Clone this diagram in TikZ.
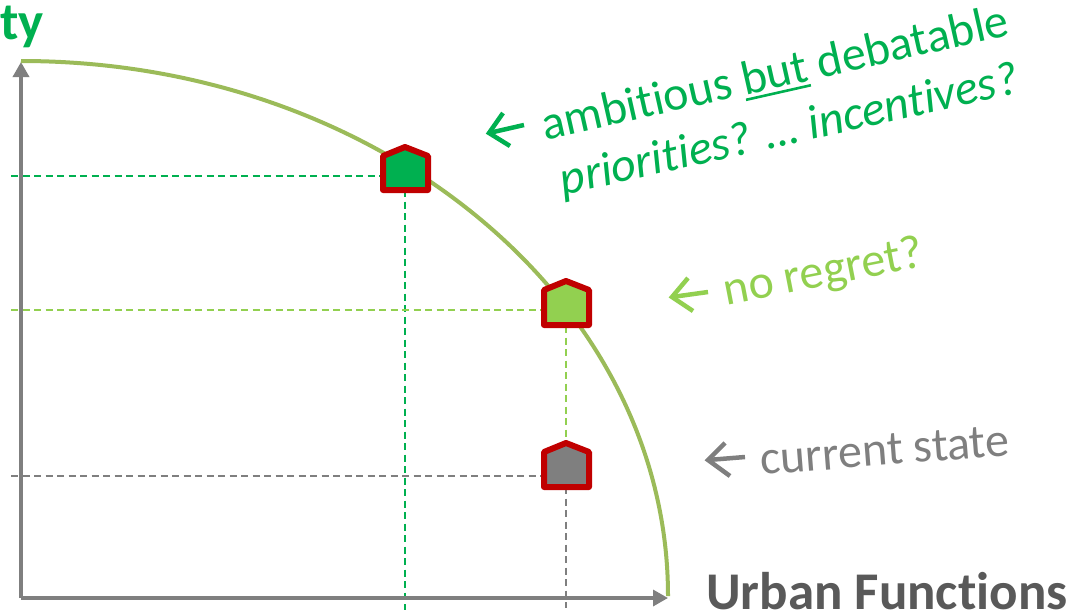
\documentclass[tikz,border=0pt]{standalone}
\usepackage{fontspec}
\setmainfont[RawFeature={-liga;-clig;-dlig}]{Carlito}
\usetikzlibrary{arrows.meta}
\definecolor{cgreen}{HTML}{00B050}
\definecolor{clight}{HTML}{92D050}
\definecolor{cgray}{HTML}{7F7F7F}
\definecolor{ccurve}{HTML}{9BBB59}
\definecolor{cred}{HTML}{C00000}
\definecolor{ctitle}{HTML}{595959}
\newcommand\myul[1]{\setbox0\hbox{#1}\rlap{\rule[-6pt]{\wd0}{2.6pt}}#1}
\tikzset{
  guide/.style={line width=1.5pt,dash pattern=on 7pt off 4.5pt},
  axisline/.style={draw=cgray,line width=3.4pt,-{Triangle[length=15pt,width=16pt]}},
  housemark/.style={draw=cred,line width=6pt,line join=round},
  pointer/.style={line width=4.5pt,line join=miter},
  note/.style={anchor=west,inner sep=0pt,font=\fontsize{48}{54}\selectfont},
  axislabel/.style={inner sep=0pt,font=\fontsize{53}{56}\selectfont\bfseries}
}
\begin{document}
\begin{tikzpicture}[x=1pt,y=-1pt]
\useasboundingbox[clip] (0,0) rectangle (1076,611);
% guides
\coordinate (h1l) at (11,176); \coordinate (h1r) at (383,176);
\coordinate (v1t) at (405,190); \coordinate (v1b) at (405,610);
\coordinate (h2l) at (11,310); \coordinate (h2r) at (543,310);
\coordinate (v2t) at (566,326); \coordinate (v2b) at (566,443);
\coordinate (h3l) at (11,476); \coordinate (h3r) at (543,476);
\coordinate (v3t) at (566,487); \coordinate (v3b) at (566,608);
\draw[guide,cgreen] (h1l) -- (h1r);
\draw[guide,cgreen] (v1t) -- (v1b);
\draw[guide,clight] (h2l) -- (h2r);
\draw[guide,clight] (v2t) -- (v2b);
\draw[guide,cgray] (h3l) -- (h3r);
\draw[guide,cgray] (v3t) -- (v3b);
% axes
\coordinate (o) at (21,598);
\coordinate (ytip) at (21,62);
\coordinate (xtip) at (668,598);
\draw[axisline] (o) -- (ytip);
\draw[axisline] (o) -- (xtip);
% curve
\draw[ccurve,line width=4pt] (21,61) arc[start angle=-90,end angle=0,x radius=647,y radius=535];
% houses
\draw[housemark,fill=cgreen] (405,147) -- (428,156) -- (428,190) -- (383,190) -- (383,156) -- cycle;
\draw[housemark,fill=clight] (566,281) -- (589,290) -- (589,325) -- (544,325) -- (544,290) -- cycle;
\draw[housemark,fill=cgray] (566,443) -- (589,452) -- (589,487) -- (544,487) -- (544,452) -- cycle;
% pointers
\draw[pointer,cgreen] (524,125) -- (489,133);
\draw[pointer,cgreen] (503,113) -- (489,133) -- (510,146);
\draw[pointer,clight] (708,292) -- (672,297);
\draw[pointer,clight] (688,278) -- (672,297) -- (693,311);
\draw[pointer,cgray] (745,457) -- (708,460);
\draw[pointer,cgray] (725,443) -- (708,460) -- (730,476);
% labels
\node[note,text=cgreen,rotate=12.7] (t1) at (542,127) {ambitious \myul{but} debatable};
\node[note,text=cgreen,rotate=12.7] (t2) at (561,183) {\itshape priorities? … incentives?};
\node[note,text=clight,rotate=11] (t3) at (724,293) {no regret?};
\node[note,text=cgray,rotate=4.5] (t4) at (760,460) {current state};
\node[axislabel,text=cgreen,anchor=base west] (ty) at (0,39) {ty};
\node[axislabel,text=ctitle,anchor=base west] (uf) at (706,609) {Urban Functions};
\end{tikzpicture}
\end{document}
